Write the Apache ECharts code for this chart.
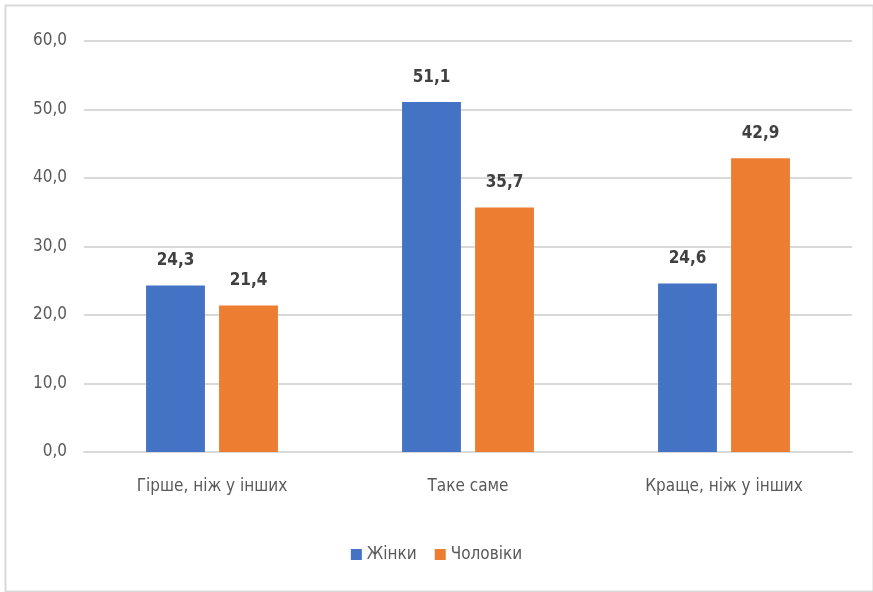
<!DOCTYPE html>
<html>
<head>
<meta charset="utf-8">
<script src="https://cdn.jsdelivr.net/npm/echarts@6/dist/echarts.min.js"></script>
<style>
  html, body { margin: 0; padding: 0; background: #fff; }
  #chart { width: 873px; height: 592px; }
</style>
</head>
<body>
<div id="chart"></div>
<script>
// Answer categories and shares (%) by gender
const categories = ['Гірше, ніж у інших', 'Таке саме', 'Краще, ніж у інших'];
const women = [24.3, 51.1, 24.6];
const men = [21.4, 35.7, 42.9];
const seriesNames = ['Жінки', 'Чоловіки'];

const FONT = "'Liberation Sans Narrow', 'DejaVu Sans Condensed', 'Roboto Condensed', sans-serif";
const fmt = v => v.toFixed(1).replace('.', ',');

const chart = echarts.init(document.getElementById('chart'), null, { renderer: 'canvas' });

const labelCfg = {
  show: true,
  position: 'top',
  distance: 16,
  color: '#404040',
  fontFamily: FONT,
  fontSize: 17,
  fontWeight: 'bold',
  formatter: p => fmt(p.value)
};

chart.setOption({
  animation: false,
  backgroundColor: '#ffffff',
  graphic: [{
    type: 'rect',
    left: 3, top: 3,
    shape: { width: 868, height: 586 },
    style: { fill: 'none', stroke: '#d9d9d9', lineWidth: 2 },
    silent: true
  }],
  grid: { left: 84, right: 21, top: 41, bottom: 140, containLabel: false },
  legend: {
    data: seriesNames,
    bottom: 24,
    left: 'center',
    itemWidth: 11,
    itemHeight: 11,
    itemGap: 18,
    icon: 'rect',
    textStyle: { color: '#595959', fontFamily: FONT, fontSize: 17 }
  },
  xAxis: {
    type: 'category',
    data: categories,
    axisLine: { lineStyle: { color: '#d9d9d9', width: 2 } },
    axisTick: { show: false },
    axisLabel: { color: '#595959', fontFamily: FONT, fontSize: 17, margin: 26 }
  },
  yAxis: {
    type: 'value',
    min: 0, max: 60, interval: 10,
    axisLine: { show: false },
    axisTick: { show: false },
    splitLine: { lineStyle: { color: '#d9d9d9', width: 2 } },
    axisLabel: { color: '#595959', fontFamily: FONT, fontSize: 17, margin: 17, formatter: v => fmt(v) }
  },
  series: [
    {
      name: seriesNames[0], type: 'bar', data: women,
      barWidth: '23%', barGap: '24%',
      itemStyle: { color: '#4472c4' },
      label: labelCfg
    },
    {
      name: seriesNames[1], type: 'bar', data: men,
      barWidth: '23%', barGap: '24%',
      itemStyle: { color: '#ed7d31' },
      label: labelCfg
    }
  ]
});
</script>
</body>
</html>
